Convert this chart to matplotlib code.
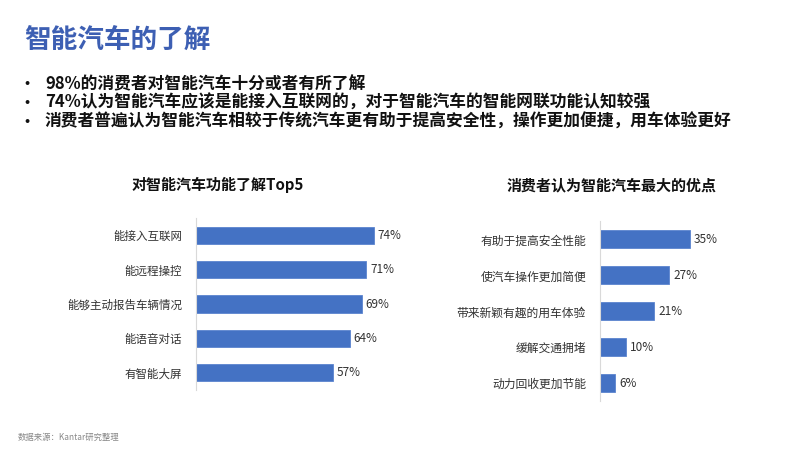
import matplotlib
matplotlib.use("Agg")
import matplotlib.pyplot as plt

plt.rcParams['font.family'] = ['Noto Sans CJK SC', 'DejaVu Sans']

page_title = "智能汽车的了解"
bullets = [
    "98%的消费者对智能汽车十分或者有所了解",
    "74%认为智能汽车应该是能接入互联网的，对于智能汽车的智能网联功能认知较强",
    "消费者普遍认为智能汽车相较于传统汽车更有助于提高安全性，操作更加便捷，用车体验更好",
]
left_title = "对智能汽车功能了解Top5"
left_cats = ["能接入互联网", "能远程操控", "能够主动报告车辆情况", "能语音对话", "有智能大屏"]
left_vals = [74, 71, 69, 64, 57]
right_title = "消费者认为智能汽车最大的优点"
right_cats = ["有助于提高安全性能", "使汽车操作更加简便", "带来新颖有趣的用车体验", "缓解交通拥堵", "动力回收更加节能"]
right_vals = [35, 27, 21, 10, 6]
source = "数据来源：Kantar研究整理"

W, H = 800, 450
fig = plt.figure(figsize=(8, 4.5), dpi=100)
fig.patch.set_facecolor("white")

def fx(px): return px / W
def fy(py): return 1 - py / H

fig.text(fx(24), fy(40), page_title, fontsize=19.2, fontweight='bold', color='#3d5fb3', va='center', ha='left')
for i, b in enumerate(bullets):
    y = 84 + i * 19
    fig.text(fx(27), fy(y), "•", fontsize=8, fontweight='bold', color='#111111', va='center', ha='center',
             family=['DejaVu Sans'])
    fig.text(fx(45), fy(y), b, fontsize=12.05, fontweight='bold', color='#111111', va='center', ha='left')

bar_color = '#4472C4'

def make_chart(x0, y_top, y_bot, px_per_unit, xmax, cats, vals, title, title_x, title_y, lab_fs):
    ax = fig.add_axes([fx(x0), fy(y_bot), (xmax * px_per_unit) / W, (y_bot - y_top) / H])
    pos = list(range(len(cats)))
    ax.barh(pos, vals, height=0.5, color=bar_color, edgecolor='#5b84cf', linewidth=0.6)
    ax.set_xlim(0, xmax)
    ax.set_ylim(len(cats) - 0.5, -0.5)
    ax.set_yticks(pos)
    ax.set_yticklabels(cats, fontsize=lab_fs, color='#333333')
    ax.tick_params(axis='y', length=0, pad=10)
    ax.set_xticks([])
    for s in ['top', 'right', 'bottom']:
        ax.spines[s].set_visible(False)
    ax.spines['left'].set_color('#d9d9d9')
    ax.spines['left'].set_linewidth(0.8)
    for p, v in zip(pos, vals):
        ax.annotate(f"{v}%", (v, p), xytext=(3, 0), textcoords='offset points',
                    va='center', ha='left', fontsize=8.5, color='#333333', annotation_clip=False)
    ax.patch.set_alpha(0)
    fig.text(fx(title_x), fy(title_y), title, fontsize=10.8, fontweight='bold', color='#111111', ha='center', va='center')

make_chart(196, 218, 390, 2.4, 100, left_cats, left_vals, left_title, 218, 185, 8.3)
make_chart(600, 221.5, 401, 2.57, 50, right_cats, right_vals, right_title, 612, 185, 8.5)

fig.text(fx(18), fy(437), source, fontsize=6, color='#888888', ha='left', va='center')

fig.savefig("out.png", dpi=100, facecolor='white')
